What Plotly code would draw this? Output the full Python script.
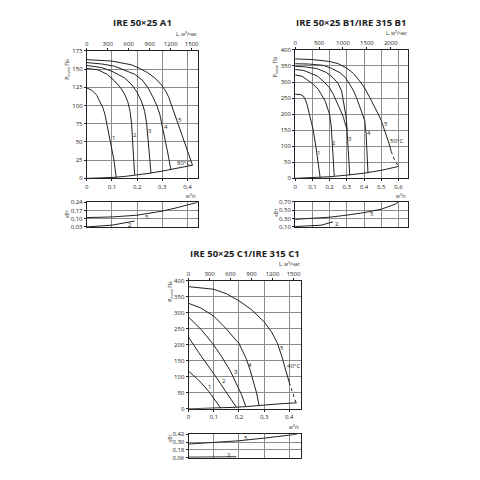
import plotly.graph_objects as go

# ================= DATA =================
# --- IRE 50x25 A1 : pressure curves (x: m3/s, y: Pa) ---
A1_c1_x = [0, 0.02, 0.04, 0.055, 0.065, 0.072, 0.08, 0.095, 0.108, 0.117]
A1_c1_y = [124, 121, 114, 104, 96, 88, 75, 50, 25, 1]
A1_c2_x = [0, 0.045, 0.08, 0.11, 0.135, 0.15, 0.163, 0.172, 0.178, 0.185, 0.19]
A1_c2_y = [151, 149, 143, 134, 124, 116, 105, 92, 75, 40, 5]
A1_c3_x = [0, 0.06, 0.1, 0.15, 0.18, 0.2, 0.218, 0.23, 0.238, 0.246, 0.255]
A1_c3_y = [155, 152, 147, 138, 128, 118, 105, 92, 75, 45, 7]
A1_c4_x = [0, 0.06, 0.11, 0.15, 0.19, 0.22, 0.242, 0.262, 0.278, 0.29, 0.305, 0.32, 0.334]
A1_c4_y = [159, 157, 154, 149, 143, 135, 125, 112, 100, 88, 65, 38, 12]
A1_c5_x = [0, 0.1, 0.176, 0.21, 0.242, 0.27, 0.295, 0.313, 0.326, 0.34, 0.36, 0.38, 0.4, 0.42]
A1_c5_y = [163, 161, 156, 151, 145, 138, 129, 120, 111, 97, 75, 55, 37, 18]
A1_sys_x = [0, 0.05, 0.1, 0.15, 0.2, 0.25, 0.3, 0.35, 0.42]
A1_sys_y = [0, 0.4, 1.2, 2.6, 4.5, 7, 10, 13.5, 18]
# power (kW)
A1_p5_x = [0, 0.1, 0.2, 0.3, 0.35, 0.44]
A1_p5_y = [0.11, 0.115, 0.13, 0.165, 0.19, 0.24]
A1_p2_x = [0, 0.1, 0.19]
A1_p2_y = [0.03, 0.045, 0.08]

# --- IRE 50x25 B1 / IRE 315 B1 ---
B1_c1_x = [0, 0.03, 0.048, 0.06, 0.07, 0.08, 0.09, 0.105, 0.12, 0.135, 0.145]
B1_c1_y = [262, 261, 256, 244, 228, 205, 185, 150, 100, 50, 3]
B1_c2_x = [0, 0.04, 0.067, 0.1, 0.135, 0.16, 0.175, 0.19, 0.2, 0.21, 0.22, 0.227]
B1_c2_y = [322, 318, 308, 295, 277, 256, 240, 215, 200, 160, 80, 8]
B1_c3b_x = [0, 0.05, 0.087, 0.13, 0.163, 0.2, 0.221, 0.245, 0.265, 0.28, 0.292, 0.302]
B1_c3b_y = [339, 336, 328, 318, 303, 282, 262, 235, 210, 190, 170, 150]
B1_c3_x = [0, 0.06, 0.125, 0.18, 0.221, 0.25, 0.27, 0.285, 0.293, 0.298, 0.305, 0.312, 0.317]
B1_c3_y = [349, 347, 342, 330, 313, 295, 272, 231, 200, 180, 120, 60, 10]
B1_c4_x = [0, 0.08, 0.163, 0.21, 0.26, 0.29, 0.317, 0.34, 0.356, 0.372, 0.39, 0.404, 0.412, 0.418, 0.423]
B1_c4_y = [357, 356, 352, 343, 329, 315, 293, 272, 252, 228, 203, 180, 140, 80, 17]
B1_c5_x = [0, 0.1, 0.2, 0.25, 0.298, 0.34, 0.375, 0.405, 0.433, 0.46, 0.48, 0.5, 0.52, 0.548, 0.558]
B1_c5_y = [372, 370, 364, 357, 344, 326, 303, 280, 252, 225, 203, 180, 150, 104, 84]
B1_c5d_x = [0.558, 0.575, 0.6]
B1_c5d_y = [84, 60, 37]
B1_sys_x = [0, 0.1, 0.2, 0.3, 0.4, 0.5, 0.6]
B1_sys_y = [0, 1.5, 5, 10, 16, 25, 37]
B1_p5_x = [0, 0.1, 0.2, 0.3, 0.4, 0.5, 0.587]
B1_p5_y = [0.28, 0.30, 0.33, 0.38, 0.44, 0.52, 0.65]
B1_p5d_x = [0.587, 0.6]
B1_p5d_y = [0.65, 0.70]
B1_p2_x = [0, 0.1, 0.15, 0.22]
B1_p2_y = [0.11, 0.12, 0.14, 0.22]

# --- IRE 50x25 C1 / IRE 315 C1 ---
C1_c1_x = [0, 0.04, 0.08, 0.11, 0.128]
C1_c1_y = [118, 90, 55, 22, 2]
C1_c2_x = [0, 0.02, 0.05, 0.1, 0.14, 0.17, 0.19]
C1_c2_y = [224, 200, 165, 110, 62, 30, 5]
C1_c3_x = [0, 0.05, 0.095, 0.13, 0.165, 0.19, 0.21, 0.227]
C1_c3_y = [287, 248, 205, 165, 120, 80, 45, 8]
C1_c4_x = [0, 0.05, 0.1, 0.15, 0.188, 0.2, 0.215, 0.23, 0.245, 0.26, 0.27, 0.28]
C1_c4_y = [330, 315, 290, 250, 215, 205, 180, 155, 120, 80, 50, 11]
C1_c5_x = [0, 0.1, 0.15, 0.2, 0.25, 0.3, 0.33, 0.353, 0.37, 0.386, 0.4]
C1_c5_y = [382, 374, 360, 338, 310, 272, 240, 205, 165, 123, 82]
C1_c5d_x = [0.4, 0.415, 0.426]
C1_c5d_y = [82, 50, 20]
C1_sys_x = [0, 0.13, 0.19, 0.23, 0.28, 0.35, 0.43]
C1_sys_y = [0, 2, 5, 7, 11, 15, 19]
C1_p5_x = [0, 0.1, 0.2, 0.3, 0.4, 0.43]
C1_p5_y = [0.27, 0.29, 0.32, 0.36, 0.41, 0.42]
C1_p2_x = [0, 0.19]
C1_p2_y = [0.07, 0.075]

# ticks
Q_TICKS = [0, 0.1, 0.2, 0.3, 0.4, 0.5, 0.6]
Q_LABELS = ["0", "0,1", "0,2", "0,3", "0,4", "0,5", "0,6"]
A1_top_ticks = [0, 300, 600, 900, 1200, 1500]
B1_top_ticks = [0, 500, 1000, 1500, 2000]
C1_top_ticks = [0, 300, 600, 900, 1200, 1500]
A1_pw_ticks = [0.03, 0.10, 0.17, 0.24]
A1_pw_labels = ["0,03", "0,10", "0,17", "0,24"]
B1_pw_ticks = [0.10, 0.30, 0.50, 0.70]
B1_pw_labels = ["0,10", "0,30", "0,50", "0,70"]
C1_pw_ticks = [0.06, 0.18, 0.30, 0.42]
C1_pw_labels = ["0,06", "0,18", "0,30", "0,42"]

# ================= FIGURE =================
fig = go.Figure()
W = H = 480
def px(v): return v / W
def py(v): return 1 - v / H

FONT = "Open Sans"
INK = "#222222"
GRID = "#8c8c8c"

panels = [
    dict(title="IRE 50×25 A1", tx=141.5, ty=19,
         x0=85.3, x1=197.3, mt=47.7, mb=177.3, pt=201.7, pb=226.7,
         xmax=0.442, ymax=175, ydt=25,
         top=A1_top_ticks, pwt=A1_pw_ticks, pwl=A1_pw_labels, pwr=[0.03, 0.24],
         curves=[(A1_c1_x, A1_c1_y), (A1_c2_x, A1_c2_y), (A1_c3_x, A1_c3_y),
                 (A1_c4_x, A1_c4_y), (A1_c5_x, A1_c5_y), (A1_sys_x, A1_sys_y)],
         dotted=[],
         power=[(A1_p5_x, A1_p5_y), (A1_p2_x, A1_p2_y)], pdotted=[],
         labels=[("1", 0.106, 56), ("2", 0.192, 60), ("3", 0.25, 65), ("4", 0.316, 71), ("5", 0.372, 80)],
         temp=("80°C", 0.385, 21),
         plabels=[("5", 0.24, 0.118), ("2", 0.17, 0.05)],
         ylab_y=66, kw_y=213),
    dict(title="IRE 50×25 B1/IRE 315 B1", tx=351, ty=19,
         x0=295, x1=408.3, mt=46.7, mb=177.3, pt=201, pb=226.7,
         xmax=0.654, ymax=400, ydt=50,
         top=B1_top_ticks, pwt=B1_pw_ticks, pwl=B1_pw_labels, pwr=[0.10, 0.70],
         curves=[(B1_c1_x, B1_c1_y), (B1_c2_x, B1_c2_y), (B1_c3b_x, B1_c3b_y), (B1_c3_x, B1_c3_y),
                 (B1_c4_x, B1_c4_y), (B1_c5_x, B1_c5_y), (B1_sys_x, B1_sys_y)],
         dotted=[(B1_c5d_x, B1_c5d_y)],
         power=[(B1_p5_x, B1_p5_y), (B1_p2_x, B1_p2_y)], pdotted=[(B1_p5d_x, B1_p5d_y)],
         labels=[("1", 0.133, 80), ("2", 0.226, 110), ("3", 0.318, 122), ("4", 0.43, 142), ("5", 0.53, 170)],
         temp=("50°C", 0.59, 116),
         plabels=[("5", 0.446, 0.40), ("2", 0.244, 0.17)],
         ylab_y=64, kw_y=212),
    dict(title="IRE 50×25 C1/IRE 315 C1", tx=245, ty=253.5,
         x0=187.7, x1=300.5, mt=281.6, mb=411.7, pt=437.5, pb=461.5,
         xmax=0.445, ymax=400, ydt=50,
         top=C1_top_ticks, pwt=C1_pw_ticks, pwl=C1_pw_labels, pwr=[0.06, 0.42],
         curves=[(C1_c1_x, C1_c1_y), (C1_c2_x, C1_c2_y), (C1_c3_x, C1_c3_y),
                 (C1_c4_x, C1_c4_y), (C1_c5_x, C1_c5_y), (C1_sys_x, C1_sys_y)],
         dotted=[(C1_c5d_x, C1_c5d_y)],
         power=[(C1_p5_x, C1_p5_y), (C1_p2_x, C1_p2_y)], pdotted=[],
         labels=[("1", 0.082, 68), ("2", 0.139, 88), ("3", 0.19, 114), ("4", 0.243, 138), ("5", 0.372, 190)],
         temp=("40°C", 0.418, 133),
         plabels=[("5", 0.228, 0.365), ("2", 0.16, 0.10)],
         ylab_y=292, kw_y=441),
]

layout = dict(
    width=W, height=H, margin=dict(l=0, r=0, t=0, b=0),
    paper_bgcolor="white", plot_bgcolor="white",
    showlegend=False, font=dict(family=FONT, size=6, color=INK),
)
annotations = []

def ax_name(prefix, n):
    return prefix if n == 1 else f"{prefix}{n}"

def paper_text(text, x, y, size, xanchor="center", yanchor="middle", angle=0):
    return dict(text=text, x=px(x), y=py(y), xref="paper", yref="paper", showarrow=False,
                xanchor=xanchor, yanchor=yanchor, textangle=angle,
                font=dict(size=size, color=INK, family=FONT))

for k, p in enumerate(panels):
    nm, npw, ntop = 3 * k + 1, 3 * k + 2, 3 * k + 3
    xm, ym = ax_name("x", nm), ax_name("y", nm)
    xp, yp = ax_name("x", npw), ax_name("y", npw)
    xt = ax_name("x", ntop)
    xdom = [px(p["x0"]), px(p["x1"])]
    qv = [v for v in Q_TICKS if v <= p["xmax"]]
    ql = Q_LABELS[:len(qv)]

    common = dict(showline=True, linecolor=INK, linewidth=1, mirror=True,
                  zeroline=False, gridcolor=GRID, gridwidth=0.6,
                  tickfont=dict(size=6, color=INK, family=FONT))
    layout[ax_name("xaxis", nm)] = dict(common, domain=xdom, range=[0, p["xmax"]], anchor=ym,
                                         tickvals=qv, ticktext=ql, ticks="outside", ticklen=2,
                                         tickcolor=INK, showgrid=True)
    layout[ax_name("yaxis", nm)] = dict(common, domain=[py(p["mb"]), py(p["mt"])],
                                         range=[0, p["ymax"]], dtick=p["ydt"], anchor=xm,
                                         ticks="outside", ticklen=2, tickcolor=INK, showgrid=True)
    layout[ax_name("xaxis", npw)] = dict(common, domain=xdom, range=[0, p["xmax"]], anchor=yp,
                                          tickvals=qv, showticklabels=False, ticks="", showgrid=True)
    layout[ax_name("yaxis", npw)] = dict(common, domain=[py(p["pb"]), py(p["pt"])],
                                          range=p["pwr"], tickvals=p["pwt"], ticktext=p["pwl"],
                                          anchor=xp, ticks="outside", ticklen=2, tickcolor=INK,
                                          showgrid=True)
    layout[ax_name("xaxis", ntop)] = dict(overlaying=xm, side="top", anchor=ym,
                                           range=[0, p["xmax"] * 3600], tickvals=p["top"],
                                           ticks="outside", ticklen=2, tickcolor=INK,
                                           showgrid=False, showline=False, zeroline=False,
                                           tickfont=dict(size=6, color=INK, family=FONT))

    for cx, cy in p["curves"]:
        fig.add_trace(go.Scatter(x=cx, y=cy, mode="lines", xaxis=xm, yaxis=ym,
                                 line=dict(color=INK, width=1), hoverinfo="skip"))
    for cx, cy in p["dotted"]:
        fig.add_trace(go.Scatter(x=cx, y=cy, mode="lines", xaxis=xm, yaxis=ym,
                                 line=dict(color=INK, width=1, dash="dot"), hoverinfo="skip"))
    for cx, cy in p["power"]:
        fig.add_trace(go.Scatter(x=cx, y=cy, mode="lines", xaxis=xp, yaxis=yp,
                                 line=dict(color=INK, width=1), hoverinfo="skip"))
    for cx, cy in p["pdotted"]:
        fig.add_trace(go.Scatter(x=cx, y=cy, mode="lines", xaxis=xp, yaxis=yp,
                                 line=dict(color=INK, width=1, dash="dot"), hoverinfo="skip"))
    # invisible trace to activate top axis
    fig.add_trace(go.Scatter(x=[0], y=[0], mode="markers", xaxis=xt, yaxis=ym,
                             marker=dict(opacity=0), hoverinfo="skip"))

    for t, lx, ly in p["labels"]:
        annotations.append(dict(text=t, x=lx, y=ly, xref=xm, yref=ym, showarrow=False,
                                font=dict(size=6, color=INK, family=FONT)))
    tt, tx, ty = p["temp"]
    annotations.append(dict(text=tt, x=tx, y=ty, xref=xm, yref=ym, showarrow=False,
                            font=dict(size=6, color=INK, family=FONT)))
    for t, lx, ly in p["plabels"]:
        annotations.append(dict(text=t, x=lx, y=ly, xref=xp, yref=yp, showarrow=False,
                                font=dict(size=6, color=INK, family=FONT)))
    # title
    annotations.append(paper_text("<b>" + p["title"] + "</b>", p["tx"], p["ty"], 9.5))
    # axis captions
    annotations.append(paper_text("L, м<sup>3</sup>/час", p["x1"] + 2, p["mt"] - 12.5, 5,
                                  xanchor="right", yanchor="bottom"))
    annotations.append(paper_text("м<sup>3</sup>/с", p["x1"] + 1, p["mb"] + 12, 5,
                                  xanchor="right", yanchor="top"))
    annotations.append(paper_text("P<sub>полн</sub>, Па", p["x0"] - 19, p["ylab_y"], 5, angle=-90))
    annotations.append(paper_text("кВт", p["x0"] - 19, p["kw_y"], 5, angle=-90))

layout["annotations"] = annotations
fig.update_layout(**layout)
fig.write_html("out.html")
